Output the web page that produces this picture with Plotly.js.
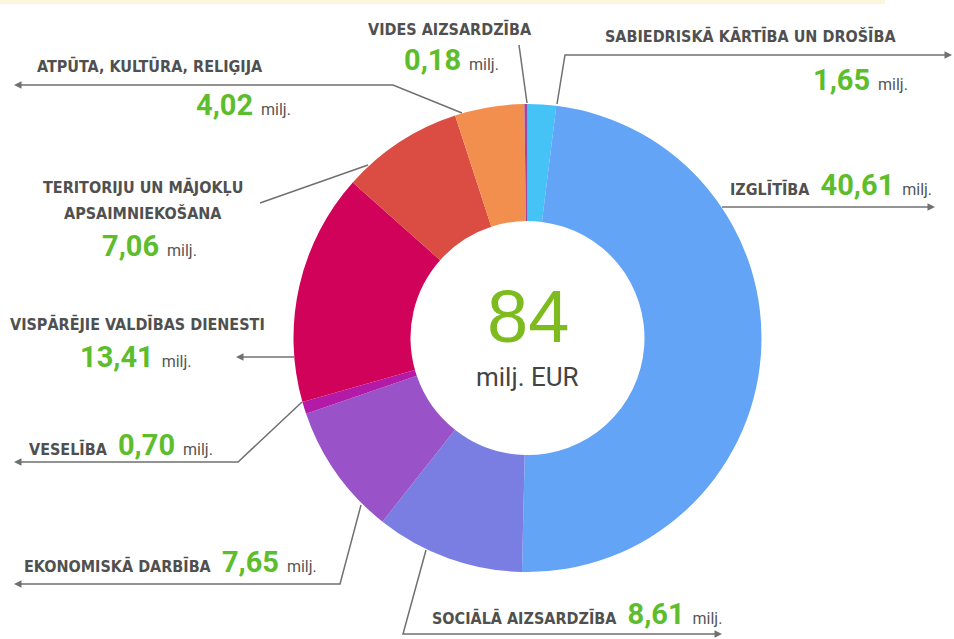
<!DOCTYPE html>
<html>
<head>
<meta charset="utf-8">
<script src="https://cdn.plot.ly/plotly-3.0.1.min.js"></script>
<style>html,body{margin:0;padding:0;background:#fff;}#chart{width:954px;height:639px;}</style>
</head>
<body>
<div id="chart"></div>
<script>
// ---- data ----
const categories = [
  "Sabiedriskā kārtība un drošība",
  "Izglītība",
  "Sociālā aizsardzība",
  "Ekonomiskā darbība",
  "Veselība",
  "Vispārējie valdības dienesti",
  "Teritoriju un mājokļu apsaimniekošana",
  "Atpūta, kultūra, reliģija",
  "Vides aizsardzība"
];
const values = [1.65, 40.61, 8.61, 7.65, 0.70, 13.41, 7.06, 4.02, 0.18];
const valueLabels = ["1,65", "40,61", "8,61", "7,65", "0,70", "13,41", "7,06", "4,02", "0,18"];
const sliceColors = ["#45C3F7", "#63A4F6", "#7A7EE3", "#9A52C8", "#B31AA8", "#D1025A", "#DB4C43", "#F28F4E", "#A0489E"];
const totalLabel = "84";
const unitLabel = "milj. EUR";
const milj = "milj.";

// ---- helpers (pixel -> paper) ----
const W = 954, H = 639;
const px = x => x / W;
const py = y => 1 - y / H;

const CX = 527.5, CY = 338, R = 234;
const LABEL_FONT = "'DejaVu Sans Condensed', sans-serif";
const LABEL_SIZE = 16;
const VAL_SIZE = 29;
const VAL_FONT = "Roboto, 'Open Sans', sans-serif";
const LABEL_COLOR = "#505050";
const GREEN = "#5DBD2C";
const LINE = "#707070";

function valHtml(i) {
  return '<span style="color:' + GREEN + ';font-family:Roboto;font-weight:bold;font-size:' + VAL_SIZE + 'px">' + valueLabels[i] + '</span>' +
         '<span style="color:#555;font-family:Roboto;font-size:16px">  ' + milj + '</span>';
}
function inlineLab(i) {
  return '<span style="font-weight:bold;font-family:DejaVu Sans Condensed;font-size:' + LABEL_SIZE + 'px;color:' + LABEL_COLOR + '">' +
         categories[i].toUpperCase() + '</span>   ' + valHtml(i);
}

const trace = {
  type: "pie",
  labels: categories,
  values: values,
  sort: false,
  direction: "clockwise",
  rotation: 0,
  hole: 0.5,
  textinfo: "none",
  hoverinfo: "label+value",
  marker: { colors: sliceColors, line: { width: 0 } },
  showlegend: false,
  domain: { x: [px(CX - R), px(CX + R)], y: [py(CY + R), py(CY - R)] }
};

// leader lines (layout decoration)
const paths = [
  [[557,104],[565,55],[946,55]],
  [[527,103],[519,45]],
  [[462,113],[393,85],[20,85]],
  [[368,165],[260,203]],
  [[294,357],[242,357]],
  [[302,402],[238,462],[20,462]],
  [[361,505],[340,584],[20,584]],
  [[426,550],[403,634],[716,634]],
  [[722,207],[929,207]]
];
const shapes = paths.map(p => ({
  type: "path",
  xref: "paper", yref: "paper",
  path: p.map((pt, k) => (k ? "L" : "M") + px(pt[0]) + "," + py(pt[1])).join(" "),
  line: { color: LINE, width: 1.5 }
}));
// faint top band
shapes.push({ type: "rect", xref: "paper", yref: "paper", x0: 0, x1: px(885), y0: py(4), y1: 1, fillcolor: "#FBF7DF", line: { width: 0 } });

// arrowheads
const arrows = [
  { x: 952, y: 55, ax: -8 }, { x: 14, y: 85, ax: 8 }, { x: 236, y: 357, ax: 8 },
  { x: 14, y: 462, ax: 8 }, { x: 14, y: 584, ax: 8 }, { x: 722, y: 634, ax: -8 }, { x: 935, y: 207, ax: -8 }
].map(a => ({
  xref: "paper", yref: "paper", x: px(a.x), y: py(a.y), ax: a.ax, ay: 0, text: "",
  showarrow: true, arrowhead: 2, arrowsize: 1, arrowwidth: 1.5, arrowcolor: LINE
}));

function lab(text, x, y, anchor) {
  return { xref: "paper", yref: "paper", x: px(x), y: py(y), xanchor: anchor || "center", yanchor: "middle",
    text: text, showarrow: false, font: { family: LABEL_FONT, size: LABEL_SIZE, color: LABEL_COLOR, weight: "bold" } };
}
function val(i, x, y, anchor) {
  return { xref: "paper", yref: "paper", x: px(x), y: py(y), xanchor: anchor || "center", yanchor: "middle",
    text: valHtml(i), showarrow: false, font: { family: VAL_FONT, size: 15, color: "#555" } };
}
function inl(i, x, y) {
  return { xref: "paper", yref: "paper", x: px(x), y: py(y), xanchor: "left", yanchor: "middle", showarrow: false,
    text: inlineLab(i), font: { family: VAL_FONT, size: 15, color: "#555" } };
}

const annotations = [
  lab(categories[8].toUpperCase(), 450, 29),
  val(8, 451, 60),
  lab(categories[0].toUpperCase(), 750, 36),
  val(0, 860, 80),
  lab(categories[7].toUpperCase(), 150, 66),
  val(7, 243, 105),
  lab("TERITORIJU UN MĀJOKĻU", 143, 187),
  lab("APSAIMNIEKOŠANA", 143, 214),
  val(6, 149, 246),
  lab(categories[5].toUpperCase(), 137, 324),
  val(5, 136, 357),
  inl(4, 27, 445),
  inl(3, 22, 562),
  inl(2, 430, 614),
  inl(1, 728, 185),
  { xref: "paper", yref: "paper", x: px(CX), y: py(316), xanchor: "center", yanchor: "middle", showarrow: false,
    text: totalLabel, font: { family: "'Liberation Sans', sans-serif", size: 74, color: "#7DBB1E" } },
  { xref: "paper", yref: "paper", x: px(CX), y: py(377), xanchor: "center", yanchor: "middle", showarrow: false,
    text: unitLabel, font: { family: "Roboto, sans-serif", size: 26, color: "#444" } }
].concat(arrows);

const layout = {
  width: W, height: H,
  margin: { l: 0, r: 0, t: 0, b: 0 },
  paper_bgcolor: "#ffffff",
  plot_bgcolor: "#ffffff",
  showlegend: false,
  shapes: shapes,
  annotations: annotations
};

Plotly.newPlot("chart", [trace], layout, { displayModeBar: false, staticPlot: true });
</script>
</body>
</html>
